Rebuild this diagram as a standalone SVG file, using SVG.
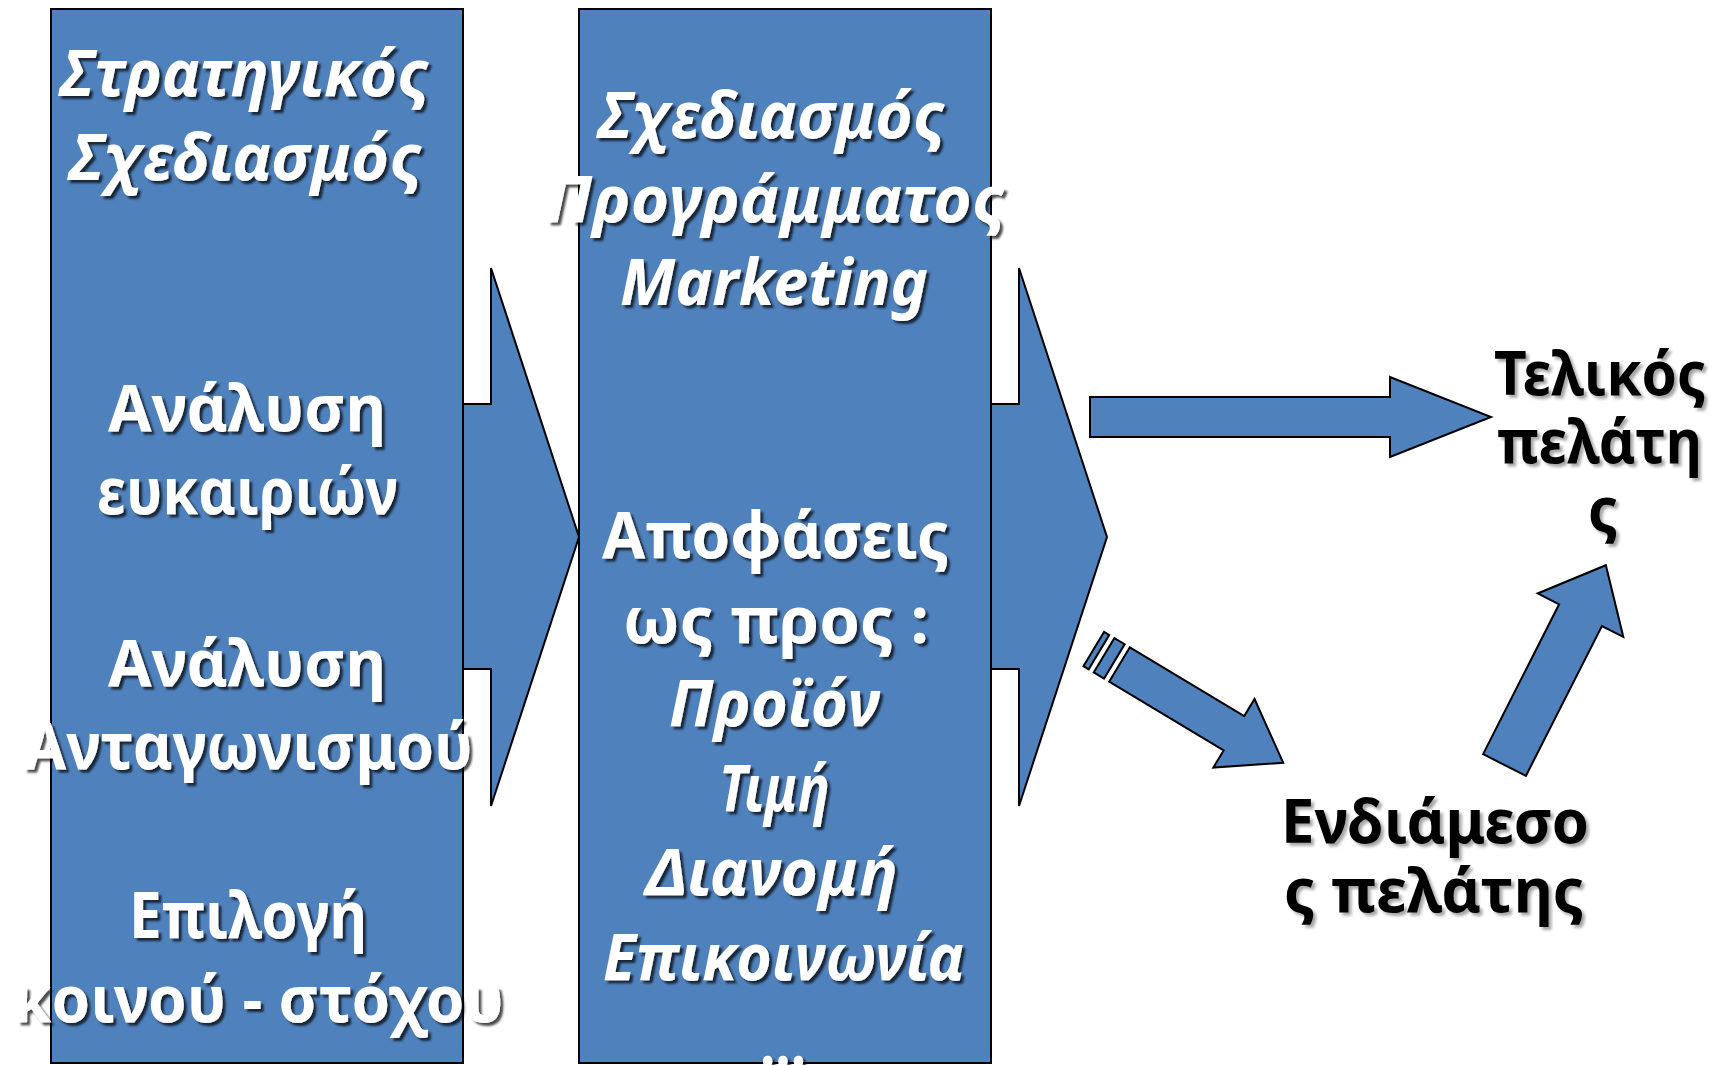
<svg xmlns="http://www.w3.org/2000/svg" width="1720" height="1065" viewBox="0 0 1720 1065">
  <defs>
    <filter id="shadow" x="-10%" y="-30%" width="120%" height="160%">
      <feDropShadow dx="3" dy="3" stdDeviation="1.2" flood-color="#000" flood-opacity="0.7"/>
    </filter>
    <filter id="shadow-light" x="-10%" y="-30%" width="120%" height="160%">
      <feDropShadow dx="3" dy="3" stdDeviation="1.5" flood-color="#000" flood-opacity="0.35"/>
    </filter>
  </defs>
  <style>
    .shape { fill: #4F81BD; stroke: #000; stroke-width: 2; stroke-linejoin: miter; }
    .lbl { font-family: 'Noto Sans', 'DejaVu Sans', sans-serif; font-weight: bold; font-size: 64px; }
    .w { fill: #fff; filter: url(#shadow); }
    .k { fill: #000; filter: url(#shadow-light); font-size: 61px; }
    .it { font-style: italic; }
  </style>

  <!-- connectors: big chevron arrows sit behind the column boxes -->
  <g id="connectors">
    <polygon id="arrow-strategy-to-program" class="shape" points="300,404 491,404 491,268 579,537 491,806 491,669 300,669"/>
    <polygon id="arrow-program-to-customers" class="shape" points="828,404 1019,404 1019,268 1107,537 1019,806 1019,669 828,669"/>
    <polygon id="arrow-to-final" class="shape" points="1090,397 1390,397 1390,377 1491,417 1390,457 1390,437 1090,437"/>
    <g id="arrow-to-intermediate" transform="translate(1119.5,664.5) rotate(31)">
      <rect class="shape" x="-30" y="-20" width="6" height="40"/>
      <rect class="shape" x="-18" y="-20" width="12" height="40"/>
      <polygon class="shape" points="0,-20 133.5,-20 133.5,-40 191,0 133.5,40 133.5,20 0,20"/>
    </g>
    <polygon id="arrow-intermediate-to-final" class="shape" transform="translate(1504.5,765) rotate(-63.1)" points="0,-24 168,-24 168,-48 224,0 168,48 168,24 0,24"/>
  </g>

  <!-- left column: strategic planning -->
  <g id="node-strategic-planning">
    <rect class="shape" x="51" y="9" width="412" height="1054"/>
    <g class="lbl w">
      <text class="it" x="60" y="96" textLength="370" lengthAdjust="spacingAndGlyphs">Στρατηγικός</text>
      <text class="it" x="69" y="180" textLength="354" lengthAdjust="spacingAndGlyphs">Σχεδιασμός</text>
      <text x="108" y="431" textLength="278" lengthAdjust="spacingAndGlyphs">Ανάλυση</text>
      <text x="97" y="514" textLength="301" lengthAdjust="spacingAndGlyphs">ευκαιριών</text>
      <text x="108" y="686" textLength="278" lengthAdjust="spacingAndGlyphs">Ανάλυση</text>
      <text x="24" y="769" textLength="449" lengthAdjust="spacingAndGlyphs">Ανταγωνισμού</text>
      <text x="129" y="938" textLength="238" lengthAdjust="spacingAndGlyphs">Επιλογή</text>
      <text x="13" y="1022" textLength="491" lengthAdjust="spacingAndGlyphs">κοινού - στόχου</text>
    </g>
  </g>

  <!-- middle column: marketing programme planning -->
  <g id="node-program-planning">
    <rect class="shape" x="579" y="9" width="412" height="1054"/>
    <g class="lbl w">
      <text class="it" x="598" y="138" textLength="348" lengthAdjust="spacingAndGlyphs">Σχεδιασμός</text>
      <text class="it" x="546" y="222" textLength="460" lengthAdjust="spacingAndGlyphs">Προγράμματος</text>
      <text class="it" x="620" y="305" textLength="308" lengthAdjust="spacingAndGlyphs">Marketing</text>
      <text x="602" y="558" textLength="347" lengthAdjust="spacingAndGlyphs">Αποφάσεις</text>
      <text x="623" y="643" textLength="306" lengthAdjust="spacingAndGlyphs">ως προς :</text>
      <text class="it" x="669" y="726" textLength="211" lengthAdjust="spacingAndGlyphs">Προϊόν</text>
      <text class="it" x="719" y="811" textLength="111" lengthAdjust="spacingAndGlyphs">Τιμή</text>
      <text class="it" x="646" y="895" textLength="252" lengthAdjust="spacingAndGlyphs">Διανομή</text>
      <text class="it" x="603" y="980" textLength="362" lengthAdjust="spacingAndGlyphs">Επικοινωνία</text>
      <text x="760" y="1066" textLength="46" lengthAdjust="spacingAndGlyphs">...</text>
    </g>
  </g>

  <!-- end customer -->
  <g id="node-final-customer" class="lbl k">
    <text x="1494" y="395" textLength="212" lengthAdjust="spacingAndGlyphs">Τελικός</text>
    <text x="1497" y="463" textLength="205" lengthAdjust="spacingAndGlyphs">πελάτη</text>
    <text x="1588" y="531" textLength="30" lengthAdjust="spacingAndGlyphs">ς</text>
  </g>

  <!-- intermediate customer -->
  <g id="node-intermediate-customer" class="lbl k">
    <text x="1281" y="843" textLength="308" lengthAdjust="spacingAndGlyphs">Ενδιάμεσο</text>
    <text x="1284" y="912" textLength="300" lengthAdjust="spacingAndGlyphs">ς πελάτης</text>
  </g>
</svg>
